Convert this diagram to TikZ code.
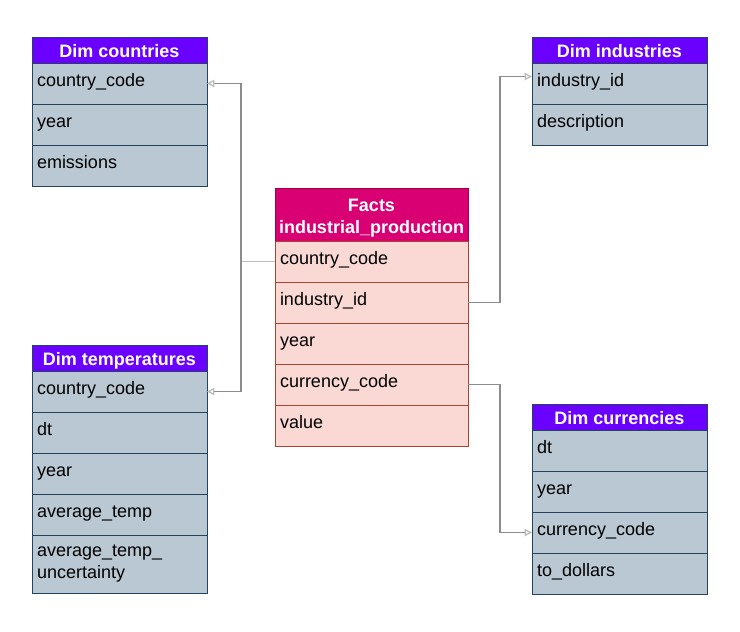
\documentclass[tikz,border=0pt]{standalone}
\usepackage{fontspec}
\setmainfont{Liberation Sans}
\usetikzlibrary{positioning, arrows.meta}

\definecolor{dimpurple}{HTML}{6A00FF}
\definecolor{dimfill}{HTML}{BAC8D3}
\definecolor{dimline}{HTML}{23445D}
\definecolor{factpink}{HTML}{D80073}
\definecolor{factline}{HTML}{A50040}
\definecolor{factfill}{HTML}{FAD9D5}
\definecolor{factrowline}{HTML}{AE4132}
\definecolor{linkgray}{HTML}{8C8C8C}
\definecolor{linklight}{HTML}{BDBDBD}

\newcommand{\tablefont}{\fontsize{13.5}{16.5}\selectfont}

\begin{document}
\begin{tikzpicture}[
    x=0.75pt, y=-0.75pt,
    dimhead/.style={rectangle, draw=dimline, fill=dimpurple, text=white, font=\tablefont\bfseries,
                    minimum width=131.25pt, minimum height=19.5pt, text height=10.5pt, text depth=0pt,
                    inner sep=0pt, outer sep=0pt, line width=0.75pt},
    dimrow/.style={rectangle, draw=dimline, fill=dimfill, font=\tablefont, text width=123.75pt,
                   text height=9pt, text depth=5.25pt, inner xsep=3.75pt, inner ysep=0pt,
                   minimum height=30.75pt, align=left, outer sep=0pt, line width=0.75pt},
    facthead/.style={rectangle, draw=factline, fill=factpink, text=white, font=\tablefont\bfseries, align=center,
                     minimum width=144.75pt, minimum height=39.75pt, text height=29pt, text depth=0pt,
                     inner sep=0pt, outer sep=0pt, line width=0.75pt},
    factrow/.style={rectangle, draw=factrowline, fill=factfill, font=\tablefont, text width=137.25pt,
                    text height=9pt, text depth=5.25pt, inner xsep=3.75pt, inner ysep=0pt,
                    minimum height=30.75pt, align=left, outer sep=0pt, line width=0.75pt},
    link/.style={draw=linkgray, line width=1pt},
    linkarrow/.style={link, -{Triangle[open, length=5.5pt, width=5.5pt, fill=white, color=linklight]}}
]
    \useasboundingbox (0,0) rectangle (740,632);

    % Dim countries
    \node[dimhead, anchor=north west] (dc-head) at (32,37) {Dim countries};
    \node[dimrow, below=0pt of dc-head] (dc-cc) {country\_code};
    \node[dimrow, below=0pt of dc-cc] (dc-year) {year};
    \node[dimrow, below=0pt of dc-year] (dc-em) {emissions};

    % Dim industries
    \node[dimhead, anchor=north west] (di-head) at (532,37) {Dim industries};
    \node[dimrow, below=0pt of di-head] (di-id) {industry\_id};
    \node[dimrow, below=0pt of di-id] (di-desc) {description};

    % Facts table
    \node[facthead, anchor=north west] (fp-head) at (275,188) {Facts\\industrial\_production};
    \node[factrow, below=0pt of fp-head] (fp-cc) {country\_code};
    \node[factrow, below=0pt of fp-cc] (fp-ind) {industry\_id};
    \node[factrow, below=0pt of fp-ind] (fp-year) {year};
    \node[factrow, below=0pt of fp-year] (fp-cur) {currency\_code};
    \node[factrow, below=0pt of fp-cur] (fp-val) {value};

    % Dim temperatures
    \node[dimhead, anchor=north west] (dt-head) at (32,345) {Dim temperatures};
    \node[dimrow, below=0pt of dt-head] (dt-cc) {country\_code};
    \node[dimrow, below=0pt of dt-cc] (dt-dt) {dt};
    \node[dimrow, below=0pt of dt-dt] (dt-year) {year};
    \node[dimrow, below=0pt of dt-year] (dt-avg) {average\_temp};
    \node[dimrow, below=0pt of dt-avg, minimum height=43.5pt, text height=10pt, text depth=21.75pt] (dt-unc) {average\_temp\_\\uncertainty};

    % Dim currencies
    \node[dimhead, anchor=north west] (dcu-head) at (532,404) {Dim currencies};
    \node[dimrow, below=0pt of dcu-head] (dcu-dt) {dt};
    \node[dimrow, below=0pt of dcu-dt] (dcu-year) {year};
    \node[dimrow, below=0pt of dcu-year] (dcu-cc) {currency\_code};
    \node[dimrow, below=0pt of dcu-cc] (dcu-usd) {to\_dollars};

    % Links
    \coordinate (fork) at ([xshift=-25.5pt]fp-cc.west);
    \draw[link, draw=linklight] (fp-cc.west) -- (fork);
    \draw[linkarrow] (fork) |- (dc-cc.east);
    \draw[linkarrow] (fork) |- (dt-cc.east);
    \draw[linkarrow] (fp-ind.east) -- ++(32,0) |- ([yshift=5.25pt]di-id.west);
    \draw[linkarrow] (fp-cur.east) -- ++(32,0) |- (dcu-cc.west);

\end{tikzpicture}
\end{document}
